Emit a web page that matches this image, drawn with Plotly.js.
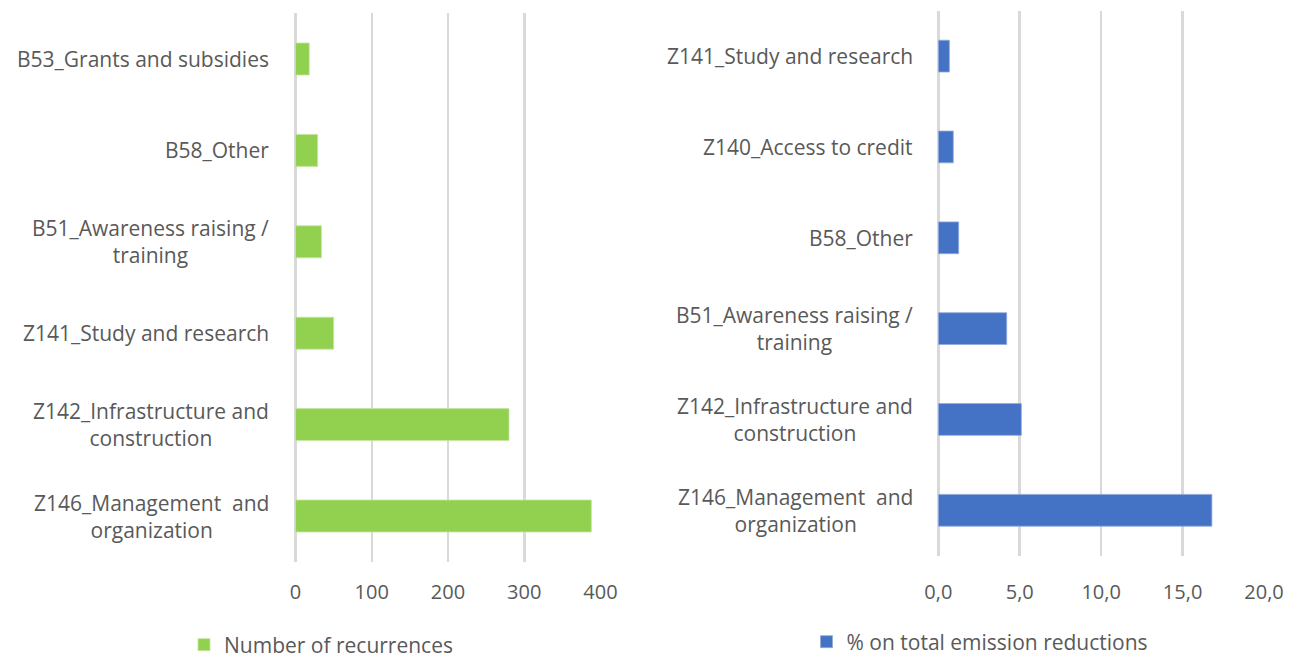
<!DOCTYPE html>
<html>
<head>
<meta charset="utf-8">
<script src="https://cdn.plot.ly/plotly-3.0.1.min.js"></script>
<style>
  html, body { margin: 0; padding: 0; background: #fff; }
  #chart { width: 1296px; height: 659px; }
</style>
</head>
<body>
<div id="chart"></div>
<script>
// Left panel: how often each measure type occurs (top to bottom)
const recurrenceCategories = [
  "B53_Grants and subsidies",
  "B58_Other",
  "B51_Awareness raising /<br>training",
  "Z141_Study and research",
  "Z142_Infrastructure and<br>construction",
  "Z146_Management  and<br>organization"
];
const recurrenceValues = [18, 29, 34, 50, 280, 388];
const recurrenceTicks = [0, 100, 200, 300, 400];
const recurrenceTickText = ["0", "100", "200", "300", "400"];

// Right panel: share of total emission reductions (top to bottom)
const emissionCategories = [
  "Z141_Study and research",
  "Z140_Access to credit",
  "B58_Other",
  "B51_Awareness raising /<br>training",
  "Z142_Infrastructure and<br>construction",
  "Z146_Management  and<br>organization"
];
const emissionValues = [0.68, 0.92, 1.25, 4.2, 5.1, 16.8];
const emissionTicks = [0, 5, 10, 15, 20];
const emissionTickText = ["0,0", "5,0", "10,0", "15,0", "20,0"];

const seriesNames = ["Number of recurrences", "% on total emission reductions"];

const W = 1296, H = 659;
const FONT = "Open Sans, sans-serif";
const TEXT = "#595959";
const GRID = "#d9d9d9";

// Panel geometry in pixels
const leftX = [295.5, 600.5], leftY = [13.3, 561.7];
const rightX = [938.3, 1264], rightY = [10.7, 555.7];
const px = v => v / W;
const py = v => (H - v) / H;

const traces = [
  {
    type: "bar", orientation: "h",
    y: recurrenceCategories, x: recurrenceValues,
    name: seriesNames[0],
    marker: { color: "#92d050", line: { color: "#c4e6a0", width: 0.8 } },
    xaxis: "x", yaxis: "y", legend: "legend",
    hoverinfo: "x+y"
  },
  {
    type: "bar", orientation: "h",
    y: emissionCategories, x: emissionValues,
    name: seriesNames[1],
    marker: { color: "#4472c4", line: { color: "#8fa9dc", width: 0.8 } },
    xaxis: "x2", yaxis: "y2", legend: "legend2",
    hoverinfo: "x+y"
  }
];

function xAxis(domain, range, ticks, text) {
  return {
    domain: domain, range: range, fixedrange: true,
    tickmode: "array", tickvals: ticks, ticktext: text,
    showgrid: true, gridcolor: GRID, gridwidth: 2.5,
    zeroline: true, zerolinecolor: GRID, zerolinewidth: 2.5,
    showline: false,
    ticks: "outside", ticklen: 12, tickcolor: "rgba(0,0,0,0)",
    tickfont: { family: FONT, size: 20, color: TEXT }
  };
}
function yAxis(domain, anchor) {
  return {
    domain: domain, anchor: anchor, type: "category",
    autorange: "reversed", showticklabels: false,
    showgrid: false, zeroline: false, showline: false, ticks: "",
    fixedrange: true
  };
}

// Category labels as centred multi-line text to the left of each panel
const annotations = [];
recurrenceCategories.forEach(c => annotations.push({
  xref: "paper", yref: "y", x: px(leftX[0]), y: c, xshift: -25,
  xanchor: "right", yanchor: "middle", align: "center", showarrow: false,
  text: c, font: { family: FONT, size: 21, color: TEXT }
}));
emissionCategories.forEach(c => annotations.push({
  xref: "paper", yref: "y2", x: px(rightX[0]), y: c, xshift: -23,
  xanchor: "right", yanchor: "middle", align: "center", showarrow: false,
  text: c, font: { family: FONT, size: 21, color: TEXT }
}));

const layout = {
  width: W, height: H,
  margin: { l: 0, r: 0, t: 0, b: 0, autoexpand: false },
  paper_bgcolor: "#ffffff", plot_bgcolor: "#ffffff",
  bargap: 0.65,
  showlegend: true,
  xaxis: xAxis([px(leftX[0]), px(leftX[1])], [0, 400], recurrenceTicks, recurrenceTickText),
  yaxis: yAxis([py(leftY[1]), py(leftY[0])], "x"),
  xaxis2: xAxis([px(rightX[0]), px(rightX[1])], [0, 20], emissionTicks, emissionTickText),
  yaxis2: yAxis([py(rightY[1]), py(rightY[0])], "x2"),
  legend: {
    x: px(321), y: py(645), xanchor: "center", yanchor: "middle",
    orientation: "h", itemwidth: 30, bgcolor: "rgba(0,0,0,0)",
    font: { family: FONT, size: 21, color: TEXT }
  },
  legend2: {
    x: px(980), y: py(642), xanchor: "center", yanchor: "middle",
    orientation: "h", itemwidth: 30, bgcolor: "rgba(0,0,0,0)",
    font: { family: FONT, size: 21, color: TEXT }
  },
  annotations: annotations
};

Plotly.newPlot("chart", traces, layout, { displayModeBar: false, staticPlot: true });
</script>
</body>
</html>
